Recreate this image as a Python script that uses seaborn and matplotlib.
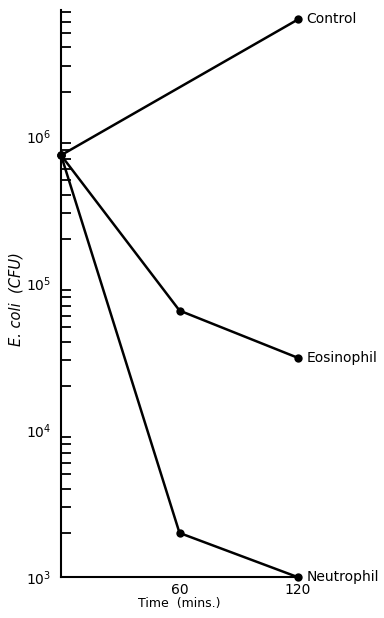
import matplotlib
matplotlib.use("Agg")
import matplotlib.pyplot as plt
import seaborn as sns
import pandas as pd
from matplotlib.ticker import LogLocator, FixedLocator, NullFormatter

sns.set_style("white")
plt.rcParams['font.family'] = ['DejaVu Sans']
plt.rcParams['text.color'] = 'black'
plt.rcParams['axes.labelcolor'] = 'black'
plt.rcParams['xtick.color'] = 'black'
plt.rcParams['ytick.color'] = 'black'

times = [0, 60, 120]
eosinophil = [7.4e5, 6.5e4, 3.1e4]
neutrophil = [7.4e5, 2.0e3, 1.0e3]
ctrl_times = [0, 120]
ctrl_vals = [7.4e5, 6.2e6]
series_names = ["Control", "Eosinophil", "Neutrophil"]
ytick_vals = [1e3, 1e4, 1e5, 1e6]
ytick_labels = ["10$^3$", "10$^4$", "10$^5$", "10$^6$"]
xtick_vals = [60, 120]
xtick_labels = ["60", "120"]

rows = []
for t, v in zip(ctrl_times, ctrl_vals):
    rows.append(("Control", t, v))
for t, v in zip(times, eosinophil):
    rows.append(("Eosinophil", t, v))
for t, v in zip(times, neutrophil):
    rows.append(("Neutrophil", t, v))
df = pd.DataFrame(rows, columns=["group", "time", "cfu"])

fig = plt.figure(figsize=(3.84, 6.18), dpi=100)
ax = fig.add_axes([0.159, 0.066, 0.617, 0.918])

sns.lineplot(data=df, x="time", y="cfu", hue="group", palette=["black"] * 3,
             marker="o", markersize=6, markeredgewidth=0, linewidth=1.8,
             legend=False, ax=ax)
for line in ax.lines:
    line.set_clip_on(False)

ax.set_yscale("log")
ax.set_ylim(1e3, 7.2e6)
ax.set_xlim(0, 120)

ax.yaxis.set_major_locator(FixedLocator(ytick_vals))
ax.set_yticklabels(ytick_labels)
ax.yaxis.set_minor_locator(LogLocator(base=10, subs=range(2, 10), numticks=20))
ax.yaxis.set_minor_formatter(NullFormatter())
ax.set_xticks(xtick_vals)
ax.set_xticklabels(xtick_labels)

ax.tick_params(axis="y", which="major", direction="inout", length=10, width=1.3,
               labelsize=10, pad=2, colors="black")
ax.tick_params(axis="y", which="minor", direction="in", length=7, width=1.3, left=True,
               colors="black")
ax.tick_params(axis="x", which="major", direction="in", length=8, width=1.3,
               labelsize=10, pad=4, colors="black")

for s in ["top", "right"]:
    ax.spines[s].set_visible(False)
for s in ["left", "bottom"]:
    ax.spines[s].set_linewidth(1.5)
    ax.spines[s].set_color("black")

ends = {"Control": ctrl_vals[-1], "Eosinophil": eosinophil[-1], "Neutrophil": neutrophil[-1]}
for name in series_names:
    ax.annotate(name, xy=(120, ends[name]), xytext=(6, 0), textcoords="offset points",
                ha="left", va="center", fontsize=10, color="black", annotation_clip=False)

ax.set_xlabel("Time  (mins.)", fontsize=9, labelpad=0, color="black")
ax.set_ylabel("E. coli  (CFU)", fontsize=10.5, style="italic", color="black")
ax.yaxis.set_label_coords(-0.16, 0.49)

fig.savefig("out.png", dpi=100)
